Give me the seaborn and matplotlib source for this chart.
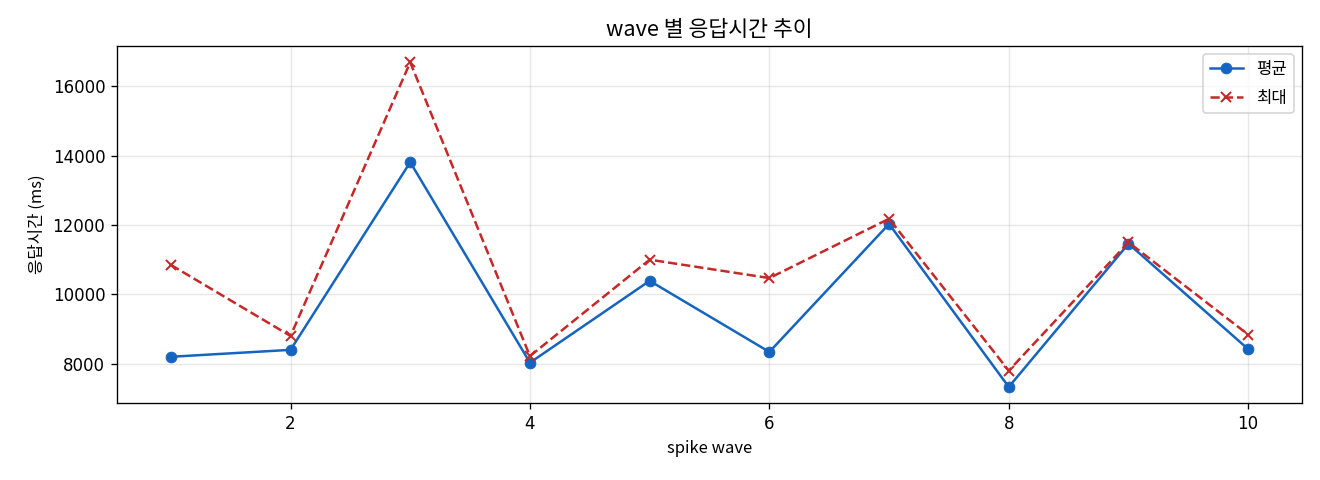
import matplotlib
matplotlib.use("Agg")
import matplotlib.pyplot as plt
import seaborn as sns
import pandas as pd

waves = [1, 2, 3, 4, 5, 6, 7, 8, 9, 10]
avg_ms = [8200, 8400, 13810, 8030, 10390, 8340, 12030, 7330, 11460, 8420]
max_ms = [10850, 8800, 16690, 8220, 11000, 10470, 12180, 7800, 11500, 8840]

plt.rcParams['font.family'] = ['Noto Sans CJK KR', 'DejaVu Sans']
plt.rcParams['axes.unicode_minus'] = False

df = pd.DataFrame({"wave": waves, "평균": avg_ms, "최대": max_ms})

fig, ax = plt.subplots(figsize=(11, 4), dpi=120)
sns.lineplot(data=df, x="wave", y="평균", ax=ax, color="#1565C0", marker="o",
             markersize=6.5, markeredgecolor="#1565C0", markeredgewidth=0.5,
             linewidth=1.5, label="평균")
sns.lineplot(data=df, x="wave", y="최대", ax=ax, color="#C62828", marker="x",
             markersize=6.5, markeredgecolor="#C62828", markeredgewidth=1.2,
             linestyle="--", linewidth=1.5, label="최대")
ax.set_title("wave 별 응답시간 추이", fontsize=13)
ax.set_xlabel("spike wave", fontsize=10)
ax.set_ylabel("응답시간 (ms)", fontsize=10)
for lbl in ax.get_xticklabels() + ax.get_yticklabels():
    lbl.set_fontfamily(['DejaVu Sans'])
    lbl.set_fontsize(10)
ax.grid(True, alpha=0.3)
ax.legend(loc="upper right", fontsize=10, labelspacing=0.7)
fig.subplots_adjust(left=0.0886, right=0.9864, top=0.904, bottom=0.160)
fig.savefig("out.png", dpi=120)
